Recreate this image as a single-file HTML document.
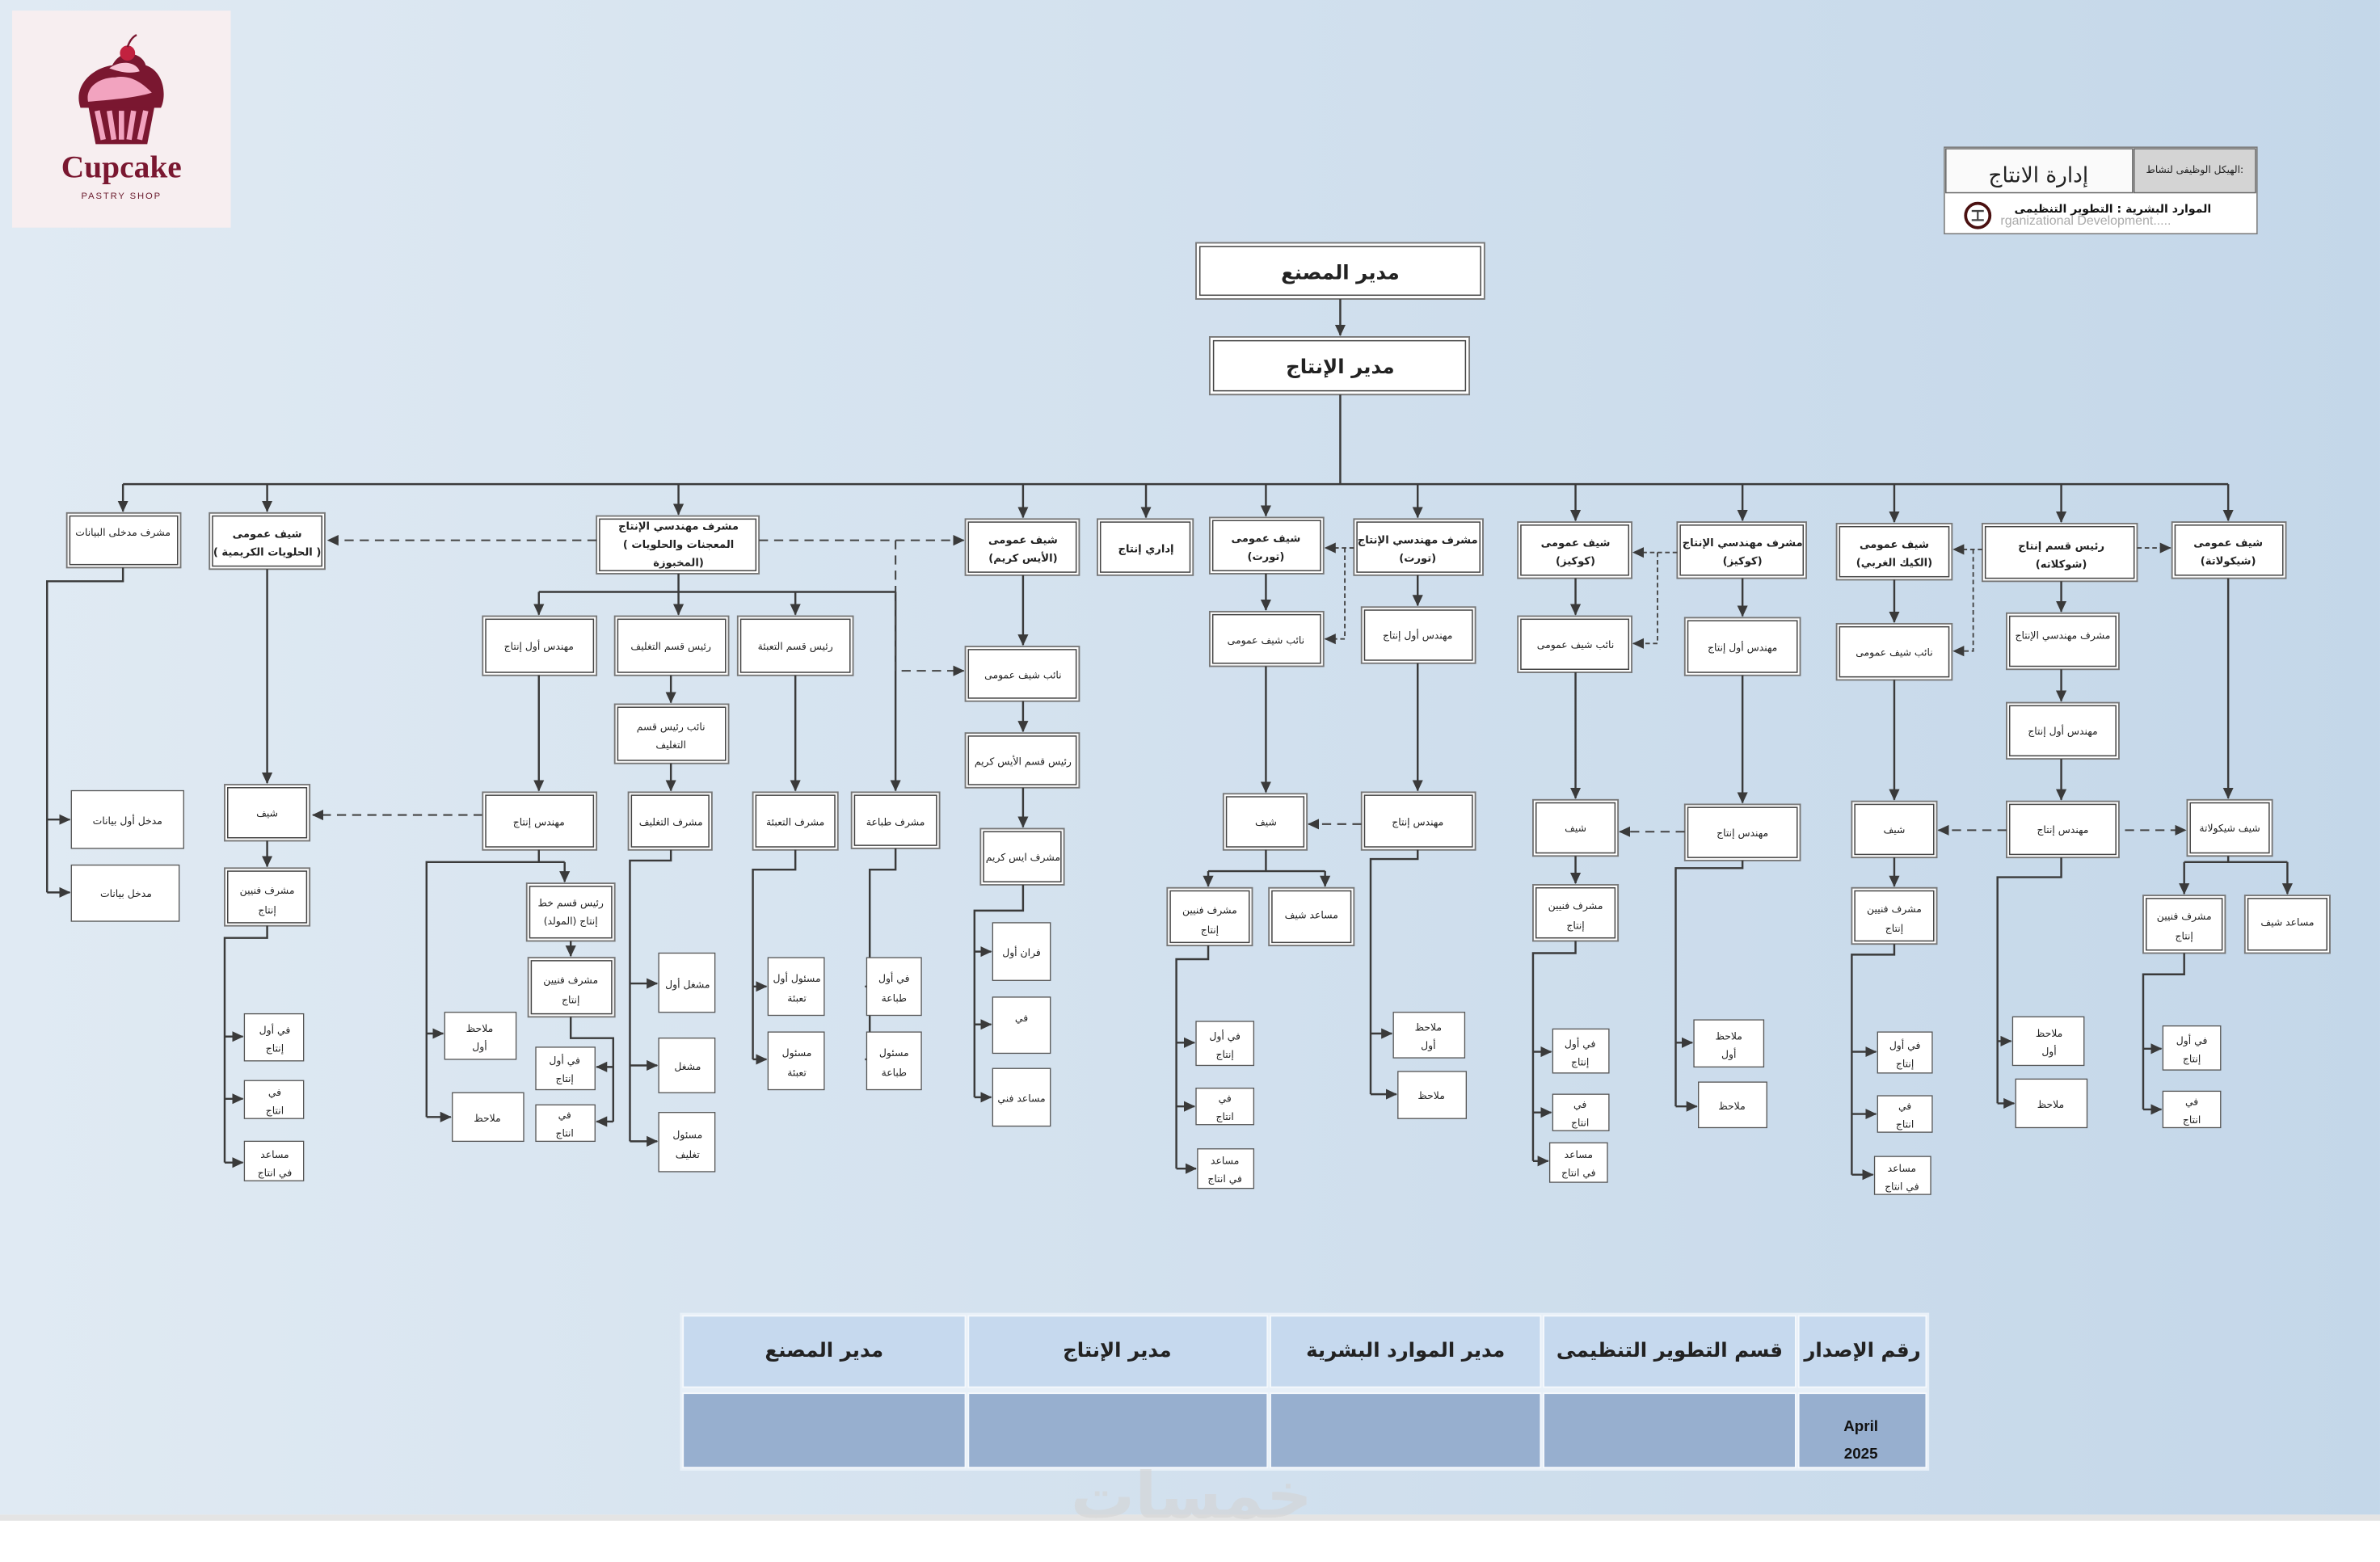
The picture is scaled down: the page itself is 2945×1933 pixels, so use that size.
<!DOCTYPE html>
<html><head><meta charset="utf-8"><style>
html,body{margin:0;padding:0;background:#fff}
svg{display:block}
.t{font-family:"DejaVu Sans","Liberation Sans",sans-serif;font-size:6.6px;text-anchor:middle;fill:#222}
.b{font-weight:bold;font-size:7px}
.o{fill:#fff;stroke:#777;stroke-width:1}
.i{fill:none;stroke:#444;stroke-width:.8}
.s{fill:#fff;stroke:#555;stroke-width:.7}
.l{fill:none;stroke:#3a3a3a;stroke-width:1.3}
.dd{fill:none;stroke:#444;stroke-width:1.1;stroke-dasharray:6 4}
.ds{fill:none;stroke:#444;stroke-width:1;stroke-dasharray:3 2}
</style></head><body>
<svg width="2945" height="1933" viewBox="0 0 1568 1029.2" xmlns="http://www.w3.org/2000/svg">
<defs>
<linearGradient id="bg" x1="0" x2="1" y1="0" y2="0"><stop offset="0" stop-color="#e0eaf3"/><stop offset="1" stop-color="#c4d7e9"/></linearGradient>
<marker id="a" markerWidth="8" markerHeight="8" refX="7" refY="4" orient="auto" markerUnits="userSpaceOnUse"><path d="M0,0.5 L7.5,4 L0,7.5z" fill="#3a3a3a"/></marker>
</defs>
<rect x="0" y="0" width="1568" height="998" fill="url(#bg)"/>
<rect x="0" y="998" width="1568" height="4" fill="#e4e4e4"/>

<!-- logo -->
<rect x="8" y="7" width="144" height="143" fill="#f7eef0"/>
<g transform="translate(80,65)">
<path d="M-22,4 L-17,30 L17,30 L22,4z" fill="#7a1730"/>
<path d="M-16,8 L-12,27 M-8,8 L-5,27 M0,8 L0,27 M8,8 L5,27 M16,8 L12,27" stroke="#f2a3bf" stroke-width="3.5"/>
<path d="M-27,6 C-32,-8 -20,-20 -6,-22 C0,-34 14,-30 16,-22 C28,-18 30,-2 26,6z" fill="#7a1730"/>
<path d="M-22,2 C-24,-8 -14,-14 -4,-14 C6,-16 14,-10 20,-4 C14,-2 4,0 -22,2z" fill="#f2a3bf"/>
<path d="M-8,-20 C0,-26 10,-24 12,-18 C4,-16 -2,-18 -8,-20z" fill="#f7c1d3"/>
<circle cx="4" cy="-30" r="5" fill="#c2213f"/>
<path d="M4,-34 Q6,-40 10,-42" stroke="#7a1730" stroke-width="1.3" fill="none"/>
</g>
<text x="80" y="117" style="font-family:'Liberation Serif',serif;font-weight:bold;font-size:21px;fill:#7a1730;text-anchor:middle">Cupcake</text>
<text x="80" y="131" style="font-family:'Liberation Sans',sans-serif;font-size:6px;letter-spacing:1px;fill:#6a1a2c;text-anchor:middle">PASTRY SHOP</text>

<!-- header box right -->
<rect x="1281" y="97" width="206" height="57" fill="#fff" stroke="#777" stroke-width=".8"/>
<rect x="1282" y="98" width="123" height="29" fill="#fafafa" stroke="#666" stroke-width=".8"/>
<rect x="1406" y="98" width="80" height="29" fill="#d4d4d4" stroke="#666" stroke-width=".8"/>
<text class="t" x="1343" y="120" style="font-size:14px">إدارة الانتاج</text>
<text class="t" x="1446" y="114" style="font-size:6.5px">الهيكل الوظيفى لنشاط:</text>
<text class="t" x="1392" y="140" style="font-size:7.5px;font-weight:bold;fill:#111">الموارد البشرية : التطوير التنظيمى</text>
<text x="1318" y="148" style="font-family:'Liberation Sans',sans-serif;font-size:8.5px;fill:#aaa">rganizational Development.....</text>
<circle cx="1303" cy="142" r="8" fill="#fff" stroke="#4a1010" stroke-width="2"/>
<path d="M1299 139h8M1303 139v6M1299 145h8" stroke="#444" stroke-width="1.2"/>

<!-- top -->
<rect class="o" x="788" y="160" width="190" height="37"/><rect class="i" x="790.5" y="162.5" width="185" height="32"/>
<text class="t" x="883" y="184" style="font-size:13px;font-weight:bold">مدير المصنع</text>
<rect class="o" x="797" y="222" width="171" height="38"/><rect class="i" x="799.5" y="224.5" width="166" height="33"/>
<text class="t" x="883" y="246" style="font-size:13px;font-weight:bold">مدير الإنتاج</text>
<path class="l" d="M883 197V221" marker-end="url(#a)"/>
<path class="l" d="M883 260V319M81 319H1468"/>
<g marker-end="url(#a)">
<path class="l" d="M81 319V337"/><path class="l" d="M176 319V337"/><path class="l" d="M447 319V339"/><path class="l" d="M674 319V341"/><path class="l" d="M755 319V341"/><path class="l" d="M834 319V340"/><path class="l" d="M934 319V341"/><path class="l" d="M1038 319V343"/><path class="l" d="M1148 319V343"/><path class="l" d="M1248 319V344"/><path class="l" d="M1358 319V344"/><path class="l" d="M1468 319V343"/>
</g>

<!-- level 1 boxes -->
<rect class="o" x="44" y="338" width="75" height="36"/><rect class="i" x="46" y="340" width="71" height="32"/>
<text class="t" x="81" y="353">مشرف مدخلى البيانات</text>
<rect class="o" x="138" y="338" width="76" height="37"/><rect class="i" x="140" y="340" width="72" height="33"/>
<text class="t b" x="176" y="354">شيف عمومى</text><text class="t b" x="176" y="366">( الحلويات الكريمية )</text>
<rect class="o" x="393" y="340" width="107" height="38"/><rect class="i" x="395" y="342" width="103" height="34"/>
<text class="t b" x="447" y="349">مشرف مهندسي الإنتاج</text><text class="t b" x="447" y="361">( المعجنات والحلويات</text><text class="t b" x="447" y="373">المخبوزة)</text>
<rect class="o" x="636" y="342" width="75" height="37"/><rect class="i" x="638" y="344" width="71" height="33"/>
<text class="t b" x="674" y="358">شيف عمومى</text><text class="t b" x="674" y="370">(الأيس كريم)</text>
<rect class="o" x="723" y="342" width="63" height="37"/><rect class="i" x="725" y="344" width="59" height="33"/>
<text class="t b" x="755" y="364">إداري إنتاج</text>
<rect class="o" x="797" y="341" width="75" height="37"/><rect class="i" x="799" y="343" width="71" height="33"/>
<text class="t b" x="834" y="357">شيف عمومى</text><text class="t b" x="834" y="369">(تورت)</text>
<rect class="o" x="892" y="342" width="85" height="37"/><rect class="i" x="894" y="344" width="81" height="33"/>
<text class="t b" x="934" y="358">مشرف مهندسي الإنتاج</text><text class="t b" x="934" y="370">(تورت)</text>
<rect class="o" x="1000" y="344" width="75" height="37"/><rect class="i" x="1002" y="346" width="71" height="33"/>
<text class="t b" x="1038" y="360">شيف عمومى</text><text class="t b" x="1038" y="372">(كوكيز)</text>
<rect class="o" x="1105" y="344" width="85" height="37"/><rect class="i" x="1107" y="346" width="81" height="33"/>
<text class="t b" x="1148" y="360">مشرف مهندسي الإنتاج</text><text class="t b" x="1148" y="372">(كوكيز)</text>
<rect class="o" x="1210" y="345" width="76" height="37"/><rect class="i" x="1212" y="347" width="72" height="33"/>
<text class="t b" x="1248" y="361">شيف عمومى</text><text class="t b" x="1248" y="373">(الكيك الغربي)</text>
<rect class="o" x="1306" y="345" width="102" height="38"/><rect class="i" x="1308" y="347" width="98" height="34"/>
<text class="t b" x="1358" y="362">رئيس قسم إنتاج</text><text class="t b" x="1358" y="374">(شوكلاته)</text>
<rect class="o" x="1431" y="344" width="75" height="37"/><rect class="i" x="1433" y="346" width="71" height="33"/>
<text class="t b" x="1468" y="360">شيف عمومى</text><text class="t b" x="1468" y="372">(شيكولاتة)</text>

<!-- col1 -->
<path class="l" d="M81 374V383H31V588"/>
<g marker-end="url(#a)"><path class="l" d="M31 540H46"/><path class="l" d="M31 588H46"/></g>
<rect class="s" x="47" y="521" width="74" height="38"/><text class="t" x="84" y="543">مدخل أول بيانات</text>
<rect class="s" x="47" y="570" width="71" height="37"/><text class="t" x="83" y="591">مدخل بيانات</text>

<!-- col2 -->
<path class="l" d="M176 375V516" marker-end="url(#a)"/>
<rect class="o" x="148" y="517" width="56" height="37"/><rect class="i" x="150" y="519" width="52" height="33"/>
<text class="t" x="176" y="538">شيف</text>
<path class="l" d="M176 554V571" marker-end="url(#a)"/>
<rect class="o" x="148" y="572" width="56" height="38"/><rect class="i" x="150" y="574" width="52" height="34"/>
<text class="t" x="176" y="589">مشرف فنيين</text><text class="t" x="176" y="602">إنتاج</text>
<path class="l" d="M176 610V618H148V766"/>
<g marker-end="url(#a)"><path class="l" d="M148 683H160"/><path class="l" d="M148 724H160"/><path class="l" d="M148 766H160"/></g>
<rect class="s" x="161" y="668" width="39" height="31"/><text class="t" x="181" y="681">في أول</text><text class="t" x="181" y="693">إنتاج</text>
<rect class="s" x="161" y="712" width="39" height="25"/><text class="t" x="181" y="722">في</text><text class="t" x="181" y="734">انتاج</text>
<rect class="s" x="161" y="752" width="39" height="26"/><text class="t" x="181" y="763">مساعد</text><text class="t" x="181" y="775">في انتاج</text>
<path class="dd" d="M393 356H216" marker-end="url(#a)"/>
<path class="dd" d="M318 537H206" marker-end="url(#a)"/>

<!-- col3 -->
<path class="l" d="M447 378V390M355 390H590"/>
<g marker-end="url(#a)"><path class="l" d="M355 390V405"/><path class="l" d="M447 390V405"/><path class="l" d="M524 390V405"/><path class="l" d="M590 390V521"/></g>
<path class="dd" d="M500 356H635" marker-end="url(#a)"/>
<path class="dd" d="M590 356V442H635" marker-end="url(#a)"/>
<rect class="o" x="318" y="406" width="75" height="39"/><rect class="i" x="320" y="408" width="71" height="35"/><text class="t" x="355" y="428">مهندس أول إنتاج</text>
<rect class="o" x="405" y="406" width="75" height="39"/><rect class="i" x="407" y="408" width="71" height="35"/><text class="t" x="442" y="428">رئيس قسم التغليف</text>
<rect class="o" x="486" y="406" width="76" height="39"/><rect class="i" x="488" y="408" width="72" height="35"/><text class="t" x="524" y="428">رئيس قسم التعبئة</text>
<path class="l" d="M355 445V521" marker-end="url(#a)"/>
<rect class="o" x="318" y="522" width="75" height="38"/><rect class="i" x="320" y="524" width="71" height="34"/><text class="t" x="355" y="544">مهندس إنتاج</text>
<path class="l" d="M355 560V568H281V736M355 568H372"/>
<path class="l" d="M372 568V581" marker-end="url(#a)"/>
<g marker-end="url(#a)"><path class="l" d="M281 681H292"/><path class="l" d="M281 736H297"/></g>
<rect class="s" x="293" y="667" width="47" height="31"/><text class="t" x="316" y="680">ملاحظ</text><text class="t" x="316" y="692">أول</text>
<rect class="s" x="298" y="720" width="47" height="32"/><text class="t" x="321" y="739">ملاحظ</text>
<rect class="o" x="347" y="582" width="58" height="38"/><rect class="i" x="349" y="584" width="54" height="34"/><text class="t" x="376" y="597">رئيس قسم خط</text><text class="t" x="376" y="609">إنتاج (المولد)</text>
<path class="l" d="M376 620V630" marker-end="url(#a)"/>
<rect class="o" x="348" y="631" width="57" height="39"/><rect class="i" x="350" y="633" width="53" height="35"/><text class="t" x="376" y="648">مشرف فنيين</text><text class="t" x="376" y="661">إنتاج</text>
<path class="l" d="M376 670V684H404V739"/>
<g marker-end="url(#a)"><path class="l" d="M404 703H393"/><path class="l" d="M404 739H393"/></g>
<rect class="s" x="353" y="690" width="39" height="28"/><text class="t" x="372" y="701">في أول</text><text class="t" x="372" y="713">إنتاج</text>
<rect class="s" x="353" y="728" width="39" height="24"/><text class="t" x="372" y="737">في</text><text class="t" x="372" y="749">انتاج</text>
<path class="l" d="M442 445V463" marker-end="url(#a)"/>
<rect class="o" x="405" y="464" width="75" height="39"/><rect class="i" x="407" y="466" width="71" height="35"/><text class="t" x="442" y="481">نائب رئيس قسم</text><text class="t" x="442" y="493">التغليف</text>
<path class="l" d="M442 503V521" marker-end="url(#a)"/>
<rect class="o" x="414" y="522" width="55" height="38"/><rect class="i" x="416" y="524" width="51" height="34"/><text class="t" x="442" y="544">مشرف التغليف</text>
<path class="l" d="M442 560V567H415V752"/>
<g marker-end="url(#a)"><path class="l" d="M415 648H433"/><path class="l" d="M415 702H433"/><path class="l" d="M415 752H433"/></g>
<rect class="s" x="434" y="628" width="37" height="39"/><text class="t" x="453" y="651">مشغل أول</text>
<rect class="s" x="434" y="684" width="37" height="36"/><text class="t" x="453" y="705">مشغل</text>
<rect class="s" x="434" y="733" width="37" height="39"/><text class="t" x="453" y="750">مسئول</text><text class="t" x="453" y="763">تغليف</text>
<path class="l" d="M524 445V521" marker-end="url(#a)"/>
<rect class="o" x="496" y="522" width="56" height="38"/><rect class="i" x="498" y="524" width="52" height="34"/><text class="t" x="524" y="544">مشرف التعبئة</text>
<path class="l" d="M524 560V573H496V698"/>
<g marker-end="url(#a)"><path class="l" d="M496 650H505"/><path class="l" d="M496 698H505"/></g>
<rect class="s" x="506" y="631" width="37" height="38"/><text class="t" x="525" y="647">مسئول أول</text><text class="t" x="525" y="660">تعبئة</text>
<rect class="s" x="506" y="680" width="37" height="38"/><text class="t" x="525" y="696">مسئول</text><text class="t" x="525" y="709">تعبئة</text>
<rect class="o" x="561" y="522" width="58" height="37"/><rect class="i" x="563" y="524" width="54" height="33"/><text class="t" x="590" y="544">مشرف طباعة</text>
<path class="l" d="M590 559V573H573V698"/>
<g marker-end="url(#a)"><path class="l" d="M573 650H570"/><path class="l" d="M573 698H570"/></g>
<rect class="s" x="571" y="631" width="36" height="38"/><text class="t" x="589" y="647">في أول</text><text class="t" x="589" y="660">طباعة</text>
<rect class="s" x="571" y="680" width="36" height="38"/><text class="t" x="589" y="696">مسئول</text><text class="t" x="589" y="709">طباعة</text>

<!-- col4 ice cream -->
<path class="l" d="M674 379V425" marker-end="url(#a)"/>
<rect class="o" x="636" y="426" width="75" height="36"/><rect class="i" x="638" y="428" width="71" height="32"/><text class="t" x="674" y="447">نائب شيف عمومى</text>
<path class="l" d="M674 462V482" marker-end="url(#a)"/>
<rect class="o" x="636" y="483" width="75" height="36"/><rect class="i" x="638" y="485" width="71" height="32"/><text class="t" x="674" y="504">رئيس قسم الأيس كريم</text>
<path class="l" d="M674 519V545" marker-end="url(#a)"/>
<rect class="o" x="646" y="546" width="55" height="37"/><rect class="i" x="648" y="548" width="51" height="33"/><text class="t" x="674" y="567">مشرف ايس كريم</text>
<path class="l" d="M674 583V600H642V723"/>
<g marker-end="url(#a)"><path class="l" d="M642 627H653"/><path class="l" d="M642 675H653"/><path class="l" d="M642 723H653"/></g>
<rect class="s" x="654" y="608" width="38" height="38"/><text class="t" x="673" y="630">فران أول</text>
<rect class="s" x="654" y="657" width="38" height="37"/><text class="t" x="673" y="673">في</text>
<rect class="s" x="654" y="704" width="38" height="38"/><text class="t" x="673" y="726">مساعد فني</text>

<!-- col6 tort -->
<path class="l" d="M834 378V402" marker-end="url(#a)"/>
<rect class="o" x="797" y="403" width="75" height="36"/><rect class="i" x="799" y="405" width="71" height="32"/><text class="t" x="834" y="424">نائب شيف عمومى</text>
<path class="l" d="M834 439V522" marker-end="url(#a)"/>
<rect class="o" x="806" y="523" width="55" height="37"/><rect class="i" x="808" y="525" width="51" height="33"/><text class="t" x="834" y="544">شيف</text>
<path class="l" d="M834 560V574M796 574H873"/>
<g marker-end="url(#a)"><path class="l" d="M796 574V584"/><path class="l" d="M873 574V584"/></g>
<rect class="o" x="769" y="585" width="56" height="38"/><rect class="i" x="771" y="587" width="52" height="34"/><text class="t" x="797" y="602">مشرف فنيين</text><text class="t" x="797" y="615">إنتاج</text>
<rect class="o" x="836" y="585" width="56" height="38"/><rect class="i" x="838" y="587" width="52" height="34"/><text class="t" x="864" y="605">مساعد شيف</text>
<path class="l" d="M796 623V632H775V770"/>
<g marker-end="url(#a)"><path class="l" d="M775 687H787"/><path class="l" d="M775 729H787"/><path class="l" d="M775 770H788"/></g>
<rect class="s" x="788" y="673" width="38" height="29"/><text class="t" x="807" y="685">في أول</text><text class="t" x="807" y="697">إنتاج</text>
<rect class="s" x="788" y="717" width="38" height="24"/><text class="t" x="807" y="726">في</text><text class="t" x="807" y="738">انتاج</text>
<rect class="s" x="789" y="757" width="37" height="26"/><text class="t" x="807" y="767">مساعد</text><text class="t" x="807" y="779">في انتاج</text>

<!-- col7 -->
<path class="ds" d="M892 361H873" marker-end="url(#a)"/>
<path class="ds" d="M886 361V421H873" marker-end="url(#a)"/>
<path class="l" d="M934 379V399" marker-end="url(#a)"/>
<rect class="o" x="897" y="400" width="75" height="37"/><rect class="i" x="899" y="402" width="71" height="33"/><text class="t" x="934" y="421">مهندس أول إنتاج</text>
<path class="l" d="M934 437V521" marker-end="url(#a)"/>
<rect class="o" x="897" y="522" width="75" height="38"/><rect class="i" x="899" y="524" width="71" height="34"/><text class="t" x="934" y="544">مهندس إنتاج</text>
<path class="dd" d="M897 543H862" marker-end="url(#a)"/>
<path class="l" d="M934 560V566H903V721"/>
<g marker-end="url(#a)"><path class="l" d="M903 681H917"/><path class="l" d="M903 721H920"/></g>
<rect class="s" x="918" y="667" width="47" height="30"/><text class="t" x="941" y="679">ملاحظ</text><text class="t" x="941" y="691">أول</text>
<rect class="s" x="921" y="706" width="45" height="31"/><text class="t" x="943" y="724">ملاحظ</text>

<!-- col8 cookies chef -->
<path class="l" d="M1038 381V405" marker-end="url(#a)"/>
<rect class="o" x="1000" y="406" width="75" height="37"/><rect class="i" x="1002" y="408" width="71" height="33"/><text class="t" x="1038" y="427">نائب شيف عمومى</text>
<path class="l" d="M1038 443V526" marker-end="url(#a)"/>
<rect class="o" x="1010" y="527" width="56" height="37"/><rect class="i" x="1012" y="529" width="52" height="33"/><text class="t" x="1038" y="548">شيف</text>
<path class="l" d="M1038 564V582" marker-end="url(#a)"/>
<rect class="o" x="1010" y="583" width="56" height="37"/><rect class="i" x="1012" y="585" width="52" height="33"/><text class="t" x="1038" y="599">مشرف فنيين</text><text class="t" x="1038" y="612">إنتاج</text>
<path class="l" d="M1038 620V628H1010V765"/>
<g marker-end="url(#a)"><path class="l" d="M1010 693H1022"/><path class="l" d="M1010 733H1022"/><path class="l" d="M1010 765H1020"/></g>
<rect class="s" x="1023" y="678" width="37" height="29"/><text class="t" x="1041" y="690">في أول</text><text class="t" x="1041" y="702">إنتاج</text>
<rect class="s" x="1023" y="721" width="37" height="24"/><text class="t" x="1041" y="730">في</text><text class="t" x="1041" y="742">انتاج</text>
<rect class="s" x="1021" y="753" width="38" height="26"/><text class="t" x="1040" y="763">مساعد</text><text class="t" x="1040" y="775">في انتاج</text>

<!-- col9 -->
<path class="ds" d="M1105 364H1076" marker-end="url(#a)"/>
<path class="ds" d="M1092 364V424H1076" marker-end="url(#a)"/>
<path class="l" d="M1148 381V406" marker-end="url(#a)"/>
<rect class="o" x="1110" y="407" width="76" height="38"/><rect class="i" x="1112" y="409" width="72" height="34"/><text class="t" x="1148" y="429">مهندس أول إنتاج</text>
<path class="l" d="M1148 445V529" marker-end="url(#a)"/>
<rect class="o" x="1110" y="530" width="76" height="37"/><rect class="i" x="1112" y="532" width="72" height="33"/><text class="t" x="1148" y="551">مهندس إنتاج</text>
<path class="dd" d="M1110 548H1067" marker-end="url(#a)"/>
<path class="l" d="M1148 567V572H1104V729"/>
<g marker-end="url(#a)"><path class="l" d="M1104 687H1115"/><path class="l" d="M1104 729H1118"/></g>
<rect class="s" x="1116" y="672" width="46" height="31"/><text class="t" x="1139" y="685">ملاحظ</text><text class="t" x="1139" y="697">أول</text>
<rect class="s" x="1119" y="713" width="45" height="30"/><text class="t" x="1141" y="731">ملاحظ</text>

<!-- col10 western cake -->
<path class="l" d="M1248 382V410" marker-end="url(#a)"/>
<rect class="o" x="1210" y="411" width="76" height="37"/><rect class="i" x="1212" y="413" width="72" height="33"/><text class="t" x="1248" y="432">نائب شيف عمومى</text>
<path class="l" d="M1248 448V527" marker-end="url(#a)"/>
<rect class="o" x="1220" y="528" width="56" height="37"/><rect class="i" x="1222" y="530" width="52" height="33"/><text class="t" x="1248" y="549">شيف</text>
<path class="l" d="M1248 565V584" marker-end="url(#a)"/>
<rect class="o" x="1220" y="585" width="56" height="37"/><rect class="i" x="1222" y="587" width="52" height="33"/><text class="t" x="1248" y="601">مشرف فنيين</text><text class="t" x="1248" y="614">إنتاج</text>
<path class="l" d="M1248 622V629H1220V774"/>
<g marker-end="url(#a)"><path class="l" d="M1220 693H1236"/><path class="l" d="M1220 734H1236"/><path class="l" d="M1220 774H1234"/></g>
<rect class="s" x="1237" y="680" width="36" height="27"/><text class="t" x="1255" y="691">في أول</text><text class="t" x="1255" y="703">إنتاج</text>
<rect class="s" x="1237" y="722" width="36" height="24"/><text class="t" x="1255" y="731">في</text><text class="t" x="1255" y="743">انتاج</text>
<rect class="s" x="1235" y="762" width="37" height="25"/><text class="t" x="1253" y="772">مساعد</text><text class="t" x="1253" y="784">في انتاج</text>

<!-- col11 chocolate head -->
<path class="ds" d="M1306 362H1287" marker-end="url(#a)"/>
<path class="ds" d="M1300 362V429H1287" marker-end="url(#a)"/>
<path class="ds" d="M1408 361H1430" marker-end="url(#a)"/>
<path class="l" d="M1358 383V403" marker-end="url(#a)"/>
<rect class="o" x="1322" y="404" width="74" height="37"/><rect class="i" x="1324" y="406" width="70" height="33"/><text class="t" x="1359" y="421">مشرف مهندسي الإنتاج</text>
<path class="l" d="M1358 441V462" marker-end="url(#a)"/>
<rect class="o" x="1322" y="463" width="74" height="37"/><rect class="i" x="1324" y="465" width="70" height="33"/><text class="t" x="1359" y="484">مهندس أول إنتاج</text>
<path class="l" d="M1358 500V527" marker-end="url(#a)"/>
<rect class="o" x="1322" y="528" width="74" height="37"/><rect class="i" x="1324" y="530" width="70" height="33"/><text class="t" x="1359" y="549">مهندس إنتاج</text>
<path class="dd" d="M1322 547H1277" marker-end="url(#a)"/>
<path class="dd" d="M1400 547H1440" marker-end="url(#a)"/>
<path class="l" d="M1358 565V578H1316V727"/>
<g marker-end="url(#a)"><path class="l" d="M1316 686H1325"/><path class="l" d="M1316 727H1327"/></g>
<rect class="s" x="1326" y="670" width="47" height="32"/><text class="t" x="1350" y="683">ملاحظ</text><text class="t" x="1350" y="695">أول</text>
<rect class="s" x="1328" y="711" width="47" height="32"/><text class="t" x="1351" y="730">ملاحظ</text>

<!-- col12 chocolate chef -->
<path class="l" d="M1468 381V526" marker-end="url(#a)"/>
<rect class="o" x="1441" y="527" width="56" height="37"/><rect class="i" x="1443" y="529" width="52" height="33"/><text class="t" x="1469" y="548">شيف شيكولاتة</text>
<path class="l" d="M1468 564V568M1439 568H1507"/>
<g marker-end="url(#a)"><path class="l" d="M1439 568V589"/><path class="l" d="M1507 568V589"/></g>
<rect class="o" x="1412" y="590" width="54" height="38"/><rect class="i" x="1414" y="592" width="50" height="34"/><text class="t" x="1439" y="606">مشرف فنيين</text><text class="t" x="1439" y="619">إنتاج</text>
<rect class="o" x="1479" y="590" width="56" height="38"/><rect class="i" x="1481" y="592" width="52" height="34"/><text class="t" x="1507" y="610">مساعد شيف</text>
<path class="l" d="M1439 628V642H1412V731"/>
<g marker-end="url(#a)"><path class="l" d="M1412 691H1424"/><path class="l" d="M1412 731H1424"/></g>
<rect class="s" x="1425" y="676" width="38" height="29"/><text class="t" x="1444" y="688">في أول</text><text class="t" x="1444" y="700">إنتاج</text>
<rect class="s" x="1425" y="719" width="38" height="24"/><text class="t" x="1444" y="728">في</text><text class="t" x="1444" y="740">انتاج</text>

<!-- bottom table -->
<rect x="448" y="865" width="823" height="104" fill="#e8f0f8"/>
<g fill="#c6d9ee" stroke="#f4f8fc" stroke-width="1">
<rect x="450" y="867" width="186" height="47"/><rect x="638" y="867" width="197" height="47"/><rect x="837" y="867" width="178" height="47"/><rect x="1017" y="867" width="166" height="47"/><rect x="1185" y="867" width="84" height="47"/>
</g>
<g fill="#97afcf" stroke="#f4f8fc" stroke-width="1">
<rect x="450" y="918" width="186" height="49"/><rect x="638" y="918" width="197" height="49"/><rect x="837" y="918" width="178" height="49"/><rect x="1017" y="918" width="166" height="49"/><rect x="1185" y="918" width="84" height="49"/>
</g>
<text class="t" x="543" y="894" style="font-size:13px;font-weight:bold">مدير المصنع</text>
<text class="t" x="736" y="894" style="font-size:13px;font-weight:bold">مدير الإنتاج</text>
<text class="t" x="926" y="894" style="font-size:13px;font-weight:bold">مدير الموارد البشرية</text>
<text class="t" x="1100" y="894" style="font-size:13px;font-weight:bold">قسم التطوير التنظيمى</text>
<text class="t" x="1227" y="894" style="font-size:13px;font-weight:bold">رقم الإصدار</text>
<text x="1226" y="943" style="font-family:'Liberation Sans',sans-serif;font-size:10px;font-weight:bold;text-anchor:middle;fill:#111">April</text>
<text x="1226" y="961" style="font-family:'Liberation Sans',sans-serif;font-size:10px;font-weight:bold;text-anchor:middle;fill:#111">2025</text>
<text x="785" y="1000" style="font-family:'DejaVu Sans',sans-serif;font-size:42px;font-weight:bold;text-anchor:middle;fill:#d4d4d4;opacity:.6">خمسات</text>
</svg>
</body></html>
